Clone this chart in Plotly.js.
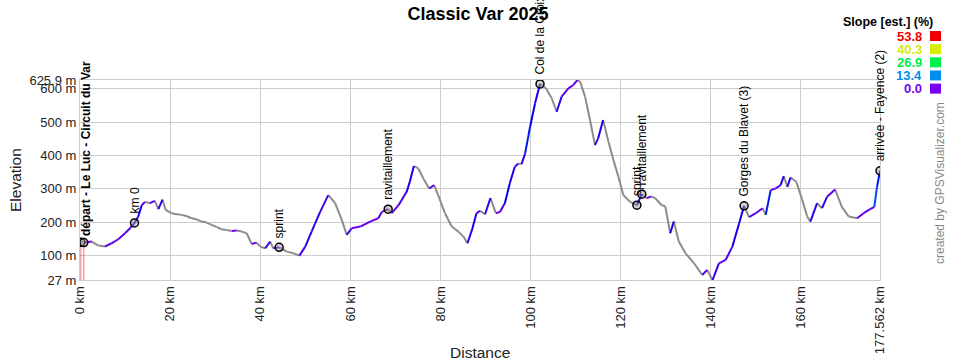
<!DOCTYPE html>
<html><head><meta charset="utf-8">
<script src="https://cdn.plot.ly/plotly-3.0.1.min.js"></script>
<style>html,body{margin:0;padding:0;background:#fff}#chart{width:960px;height:360px}</style>
</head><body><div id="chart"></div>
<script>
// ---- data ----
const distKm = [0.2,0.85,2.6,4.1,5.5,7.0,8.5,10.0,11.1,12.1,12.9,13.7,14.4,15.5,16.6,17.4,18.3,19.0,20.3,21.5,22.6,23.7,24.8,26.0,27.0,28.1,29.2,30.3,31.4,32.5,33.7,34.8,35.9,37.0,38.1,39.2,40.0,41.1,42.2,42.9,44.2,45.9,47.4,48.7,50.0,51.4,53.3,55.1,56.6,58.1,59.2,60.3,62.2,64.4,66.2,67.0,68.4,69.2,70.7,72.5,73.2,74.1,75.1,76.2,77.5,78.6,79.5,81.0,82.5,84.0,85.1,86.0,87.0,88.0,88.8,89.9,91.1,92.3,93.2,94.3,95.4,96.5,97.3,98.0,98.8,99.9,101.0,102.1,103.4,104.7,105.8,106.9,108.4,109.5,110.4,111.0,112.1,113.2,114.3,115.0,116.1,117.3,118.4,119.5,120.6,122.1,123.6,124.7,125.8,126.7,127.6,129.1,129.9,131.0,131.8,132.9,134.4,136.3,138.1,139.2,140.4,141.8,143.3,144.8,146.3,147.4,148.5,150.0,151.5,152.2,153.3,154.4,155.5,156.2,157.0,157.7,159.0,160.3,161.4,162.1,163.6,164.7,165.8,167.6,169.1,170.6,172.5,173.9,175.4,176.3,176.9,177.562];
const elevM = [140,139,142,130,127,137,149,167,182,198,216,251,261,257,264,239,268,237,227,224,222,218,212,208,202,199,192,186,179,177,174,175,172,167,135,139,127,122,142,122,125,112,107,100,127,172,231,281,258,207,162,182,187,202,212,231,239,227,251,291,321,368,361,331,301,311,281,227,187,172,157,137,177,227,234,224,272,227,231,257,317,366,376,374,406,486,556,614,601,571,531,576,601,611,625.9,621,576,506,431,451,506,441,386,336,281,261,251,284,272,277,273,251,248,167,202,142,107,77,42,57,27,77,87,127,197,249,215,227,242,222,296,301,311,338,306,334,321,267,217,202,257,242,276,298,246,217,212,227,239,246,306,354];

const wpName = ["départ - Le Luc - Circuit du Var","km 0","sprint","ravitaillement","Col de la Croix","sprint","ravitaillement","Gorges du Blavet (3)","arrivée - Fayence (2)"];
const wpKm   = [0.5,12.1,44.2,68.4,102.1,123.6,124.7,147.4,177.562];
const wpElev = [140,198,125,239,614,251,284,249,354];
const wpBold = [true,false,false,false,false,false,false,false,false];
// start waypoint markers (two overlapping points)
const startMarkKm = [0.2,0.85];
const startMarkElev = [140,139];

const spikeKm = [0.2,0.85];
const spikeElev = [140,139];

const xTickVals = [0,20,40,60,80,100,120,140,160,177.562];
const xTickText = ["0 km","20 km","40 km","60 km","80 km","100 km","120 km","140 km","160 km","177.562 km"];
const yTickVals = [27,100,200,300,400,500,600,625.9];
const yTickText = ["27 m","100 m","200 m","300 m","400 m","500 m","600 m","625.9 m"];

const slopeLegendVals = [53.8,40.3,26.9,13.4,0.0];
const slopeMax = 53.8;

// ---- helpers ----
function hsv(h){ // s=1, v=0.93
  const c=238; const hp=h/60; const x=c*(1-Math.abs(hp%2-1));
  let r=0,g=0,b=0;
  if(hp<1){r=c;g=x;}else if(hp<2){r=x;g=c;}else if(hp<3){g=c;b=x;}
  else if(hp<4){g=x;b=c;}else if(hp<5){r=x;b=c;}else{r=c;b=x;}
  return 'rgb('+Math.round(r)+','+Math.round(g)+','+Math.round(b)+')';
}
function slopeColor(s){
  if(s<0) return 'rgb(140,140,140)';
  const f=Math.min(s/slopeMax,1);
  let h=270-f*270; h=Math.round(h/6)*6;
  return hsv(h);
}
const FONT='Liberation Sans, Arial, sans-serif';

const groups={};
for(let i=0;i<distKm.length-1;i++){
  const s=(elevM[i+1]-elevM[i])/((distKm[i+1]-distKm[i])*10);
  const c=slopeColor(s);
  if(!groups[c]) groups[c]={x:[],y:[]};
  groups[c].x.push(distKm[i],distKm[i+1],null);
  groups[c].y.push(elevM[i],elevM[i+1],null);
}
const yMin=yTickVals[0], yMax=yTickVals[yTickVals.length-1];
const xMax=xTickVals[xTickVals.length-1];

const traces=[];
const sx=[],sy=[];
spikeKm.forEach((k,i)=>{sx.push(k,k,null);sy.push(yMin,spikeElev[i],null);});
traces.push({x:sx,y:sy,mode:'lines',line:{color:'rgba(238,0,0,0.55)',width:1},hoverinfo:'skip',showlegend:false});
Object.keys(groups).forEach(c=>{
  traces.push({x:groups[c].x,y:groups[c].y,mode:'lines',line:{color:c,width:2},hoverinfo:'skip',showlegend:false});
});
const mk={symbol:'circle',size:8,color:'rgba(150,150,150,0.45)',line:{color:'#000',width:1.5}};
traces.push({x:startMarkKm,y:startMarkElev,mode:'markers',marker:mk,showlegend:false,hoverinfo:'skip'});
traces.push({x:wpKm.slice(1),y:wpElev.slice(1),mode:'markers',marker:mk,showlegend:false,hoverinfo:'skip'});

const annotations=[];
wpName.forEach((n,i)=>{
  annotations.push({x:wpKm[i],y:wpElev[i],xref:'x',yref:'y',text:wpBold[i]?'<b>'+n+'</b>':n,showarrow:false,textangle:-90,
    xanchor:'center',yanchor:'bottom',yshift:wpBold[i]?4:7,xshift:wpBold[i]?4:0,font:{family:FONT,size:12,color:'#000'}});
});
annotations.push({x:0.5,y:-0.36,xref:'paper',yref:'paper',xanchor:'center',yanchor:'middle',text:'Distance',showarrow:false,
  font:{family:FONT,size:15.5,color:'#222'}});
annotations.push({x:-0.08125,y:0.5,xref:'paper',yref:'paper',xanchor:'center',text:'Elevation',showarrow:false,textangle:-90,
  font:{family:FONT,size:15.5,color:'#222'}});
annotations.push({x:1.075,y:0.485,xref:'paper',yref:'paper',xanchor:'center',yanchor:'middle',text:'created by GPSVisualizer.com',showarrow:false,textangle:-90,
  font:{family:FONT,size:12,color:'#888'}});
annotations.push({x:1.06875,y:1.29,xref:'paper',yref:'paper',xanchor:'right',yanchor:'middle',text:'<b>Slope [est.] (%)</b>',showarrow:false,
  font:{family:FONT,size:12.5,color:'#000'}});
const shapes=[];
slopeLegendVals.forEach((v,i)=>{
  const py=36+i*13.15;
  const yp=(280-py)/200;
  const col=slopeColor(v);
  annotations.push({x:1.055,y:yp,xref:'paper',yref:'paper',xanchor:'right',yanchor:'middle',text:'<b>'+v.toFixed(1)+'</b>',showarrow:false,
    font:{family:FONT,size:13,color:col}});
  shapes.push({type:'rect',xref:'paper',yref:'paper',x0:(930-80)/800,x1:(941-80)/800,y0:(280-py-5)/200,y1:(280-py+5)/200,
    fillcolor:col,line:{width:0}});
});

const layout={
  width:960,height:360,
  margin:{l:80,r:80,t:80,b:80},
  paper_bgcolor:'#fff',plot_bgcolor:'#fff',
  title:{text:'<b>Classic Var 2025</b>',x:0.498,xanchor:'center',y:0.962,yanchor:'middle',
    font:{family:FONT,size:18,color:'#000'}},
  xaxis:{range:[0,xMax],tickvals:xTickVals,ticktext:xTickText,tickangle:-90,showgrid:true,gridcolor:'#cccccc',gridwidth:1,
    zeroline:false,showline:true,linecolor:'#cccccc',mirror:true,ticks:'',
    tickfont:{family:FONT,size:13,color:'#222'}},
  yaxis:{range:[yMin,yMax],tickvals:yTickVals,ticktext:yTickText,showgrid:true,gridcolor:'#cccccc',gridwidth:1,
    zeroline:false,showline:true,linecolor:'#cccccc',mirror:true,ticks:'',
    tickfont:{family:FONT,size:13,color:'#222'}},
  annotations:annotations,shapes:shapes,showlegend:false
};
Plotly.newPlot('chart',traces,layout,{displayModeBar:false,staticPlot:true});
</script></body></html>
